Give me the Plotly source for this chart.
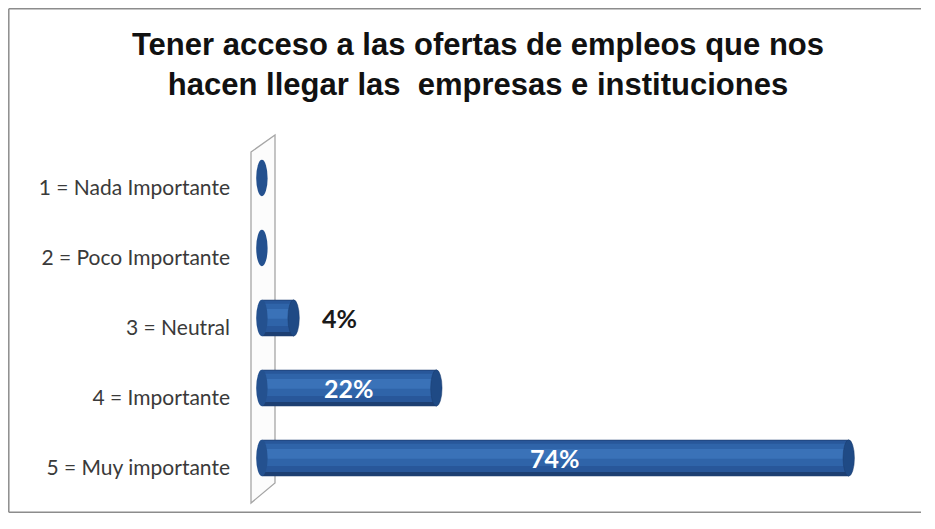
import plotly.graph_objects as go

categories = ["1 = Nada Importante", "2 = Poco Importante", "3 = Neutral",
              "4 = Importante", "5 = Muy importante"]
values = [0, 0, 4, 22, 74]
value_labels = ["", "", "4%", "22%", "74%"]
title_text = "Tener acceso a las ofertas de empleos que nos<br>hacen llegar las  empresas e instituciones"

# page body has an 8px margin: figure pixels = reference pixels - 8
OFF = 8
W, H = 935 - 2 * OFF - 4, 529 - 2 * OFF - 8
XMIN, SCALE = -1.5, 7.93          # px per percentage point
ZERO_PX = 262 - OFF               # x position of value 0 (figure px)
L = round(ZERO_PX + XMIN * SCALE)
R = 0
pw = W - L - R
XMAX = XMIN + pw / SCALE
T = 153 - OFF
B = H - (503 - OFF)
ph = H - T - B

SHIFT = -10 / 70                  # bars sit 10px above the tick label centres
BW = 0.52


def px_x(px):
    return (px - OFF - L) / pw


def px_y(py):
    return (H - B - (py - OFF)) / ph


fig = go.Figure()

# cylinder body built from stacked bars (dark edge -> lighter core, highlight above centre)
layers = [(BW, 0.0, "#1d3f72"), (0.45, -0.025, "#28579a"),
          (0.32, -0.045, "#2f64a9"), (0.14, -0.06, "#3a72b8")]
for w, s, c in layers:
    fig.add_trace(go.Bar(
        y=categories, x=values, orientation="h", width=w,
        offset=SHIFT + s - w / 2,
        marker=dict(color=c, line=dict(width=0)),
        hoverinfo="skip", showlegend=False,
    ))

shapes = []
# 3D wall
shapes.append(dict(
    type="path", xref="paper", yref="paper",
    path=(f"M {px_x(251)},{px_y(152)} L {px_x(275)},{px_y(135)} "
          f"L {px_x(275)},{px_y(483)} L {px_x(251)},{px_y(503)} Z"),
    line=dict(color="#a6a6a6", width=1.3), fillcolor="rgba(250,250,250,0.6)", layer="below",
))
# outer border (left, top, bottom; right edge is cut off in the reference)
bx0 = (0.8 - L) / pw
bx1 = (W - 2 - L) / pw
by_top = (H - B - 0.8) / ph
by_bot = (-B + 0.8) / ph
for x0, y0, x1, y1 in [(bx0, by_bot, bx0, by_top), (bx0, by_top, bx1, by_top), (bx0, by_bot, bx1, by_bot)]:
    shapes.append(dict(type="line", xref="paper", yref="paper", x0=x0, y0=y0, x1=x1, y1=y1,
                       line=dict(color="#8c8c8c", width=1.5), layer="below"))

cap_w = 0.72
for i, v in enumerate(values):
    yc = i + SHIFT
    # left rounded end (the only mark for zero values)
    shapes.append(dict(type="circle", xref="x", yref="y",
                       x0=-cap_w, x1=cap_w, y0=yc - BW / 2, y1=yc + BW / 2,
                       fillcolor="#24518f", line=dict(width=0), layer="above"))
    if v > 0:
        shapes.append(dict(type="circle", xref="x", yref="y",
                           x0=v - cap_w, x1=v + cap_w, y0=yc - BW / 2, y1=yc + BW / 2,
                           fillcolor="#1f4a85", line=dict(color="#1a3d6e", width=0.5), layer="above"))

annotations = []
for i, (v, lab) in enumerate(zip(values, value_labels)):
    if not lab:
        continue
    yc = i + SHIFT
    if v >= 10:
        annotations.append(dict(x=v / 2, y=yc, xref="x", yref="y", text=f"<b>{lab}</b>",
                                showarrow=False,
                                font=dict(family="Lato, Open Sans, sans-serif", size=25, color="white")))
    else:
        annotations.append(dict(x=v + 5.8, y=yc, xref="x", yref="y", text=f"<b>{lab}</b>",
                                showarrow=False,
                                font=dict(family="Lato, Open Sans, sans-serif", size=25, color="#1a1a1a")))

fig.update_layout(
    width=W, height=H,
    margin=dict(l=L, r=R, t=T, b=B),
    paper_bgcolor="white", plot_bgcolor="rgba(0,0,0,0)",
    barmode="overlay",
    title=dict(text=f"<b>{title_text}</b>", xref="container", x=(478 - OFF) / W, xanchor="center",
               yref="container", y=1 - 47 / H, yanchor="top",
               font=dict(family="Liberation Sans, Arial, sans-serif", size=31, color="#111111")),
    xaxis=dict(range=[XMIN, XMAX], visible=False, fixedrange=True),
    yaxis=dict(categoryorder="array", categoryarray=categories, autorange="reversed",
               showgrid=False, zeroline=False, showline=False, ticks="",
               ticklabelstandoff=19,
               tickfont=dict(family="Lato, Open Sans, sans-serif", size=21, color="#3a3a3a")),
    shapes=shapes, annotations=annotations,
)

fig.write_html("out.html")
